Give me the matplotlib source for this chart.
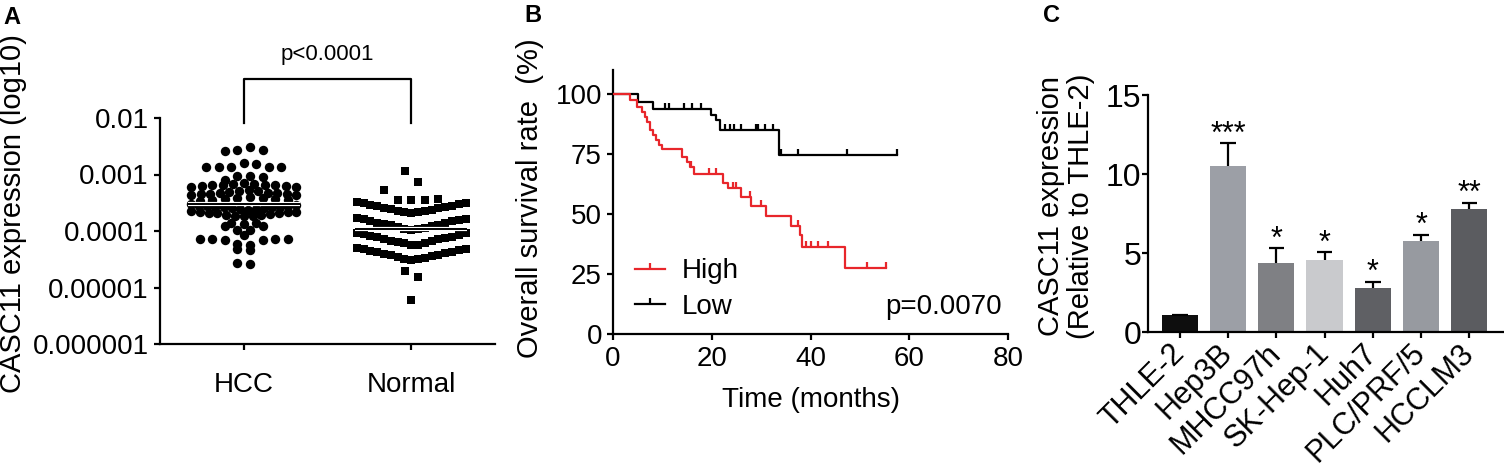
import numpy as np
import matplotlib
matplotlib.use("Agg")
import matplotlib.pyplot as plt
from matplotlib.lines import Line2D
import matplotlib.transforms as mtransforms

plt.rcParams['font.family'] = ['Liberation Sans', 'DejaVu Sans']

# ---------------- Panel A data (log10 CASC11 expression) ----------------
groups_a = ['HCC', 'Normal']
hcc_log10 = [
    -2.51, -2.56, -2.57, -2.58,
    -2.80, -2.81, -2.86, -2.87, -2.87, -2.875, -2.875,
    -3.02, -3.03, -3.04, -3.10,
    -3.15, -3.16, -3.17, -3.18, -3.18, -3.19, -3.19, -3.20, -3.21, -3.22, -3.23,
    -3.28, -3.29, -3.30, -3.31, -3.32, -3.32, -3.33, -3.34, -3.35, -3.35, -3.36, -3.37,
    -3.40, -3.41, -3.42, -3.43, -3.44, -3.45, -3.46, -3.47,
    -3.53, -3.54, -3.55, -3.55, -3.56, -3.57, -3.57, -3.58, -3.58, -3.59, -3.60, -3.61, -3.61, -3.62,
    -3.65, -3.66, -3.67, -3.67, -3.68, -3.68, -3.69, -3.70, -3.71, -3.72, -3.73, -3.73, -3.74,
    -3.86, -3.86, -3.87,
    -3.91, -3.92, -3.98, -3.99,
    -4.07,
    -4.14, -4.14, -4.15, -4.15, -4.16, -4.16, -4.23, -4.24,
    -4.32, -4.33,
    -4.57, -4.58,
]
normal_log10 = [
    -2.94, -3.13,
    -3.27, -3.44, -3.45, -3.45, -3.46,
    -3.49, -3.50, -3.51, -3.52, -3.54, -3.55, -3.56, -3.57, -3.59, -3.60, -3.61, -3.62, -3.64, -3.65, -3.66, -3.67, -3.69,
    -3.77, -3.78, -3.79, -3.80, -3.82, -3.83, -3.85, -3.86, -3.88, -3.89, -3.90, -3.92, -3.93, -3.94, -3.96, -3.97, -3.98,
    -4.03, -4.04, -4.05, -4.07, -4.08, -4.10, -4.11, -4.12, -4.14, -4.15, -4.17, -4.18, -4.19, -4.21, -4.22, -4.24, -4.25,
    -4.30, -4.31, -4.32, -4.34, -4.35, -4.37, -4.38, -4.39, -4.41, -4.42, -4.43, -4.45, -4.46, -4.47, -4.49, -4.50, -4.51,
    -4.71, -4.81,
    -5.22,
]
yticks_a = [-2, -3, -4, -5, -6]
ytick_labels_a = ['0.01', '0.001', '0.0001', '0.00001', '0.000001']
p_text_a = 'p<0.0001'

# ---------------- Panel B data (Kaplan-Meier) ----------------
high_times = [0, 3.4, 4.8, 5.8, 6.5, 6.8, 7.5, 8.2, 8.8, 9.4, 10.0, 13.9, 14.9, 15.6, 16.4,
              22.2, 23.3, 26.0, 28.0, 31.0, 36.1, 37.8, 38.3, 46.9, 55.3]
high_surv = [100, 97.5, 94.7, 92.6, 90.5, 88.5, 85.0, 82.9, 80.8, 78.8, 77.0, 73.9, 71.8, 69.7, 66.6,
             63.0, 60.7, 56.9, 53.2, 49.0, 45.0, 41.2, 36.1, 27.3, 27.3]
high_censor = [15.8, 19.4, 20.9, 24.3, 25.0, 27.8, 30.0, 37.4, 39.0, 40.1, 41.5, 43.5, 51.5, 55.3]
low_times = [0, 5.0, 8.1, 19.9, 20.8, 21.6, 33.7, 57.6]
low_surv = [100, 96.8, 93.6, 91.2, 89.2, 85.2, 74.6, 74.6]
low_censor = [10.6, 11.4, 14.4, 16.0, 17.8, 22.6, 23.6, 24.6, 26.0, 29.0, 29.4, 30.7, 32.4,
              34.1, 37.4, 47.3, 57.6]
series_b = ['High', 'Low']
p_text_b = 'p=0.0070'

# ---------------- Panel C data ----------------
cell_lines = ['THLE-2', 'Hep3B', 'MHCC97h', 'SK-Hep-1', 'Huh7', 'PLC/PRF/5', 'HCCLM3']
rel_expr = [1.1, 10.5, 4.35, 4.55, 2.8, 5.75, 7.77]
rel_err = [0.0, 1.45, 0.95, 0.5, 0.38, 0.4, 0.42]
sig_c = ['', '***', '*', '*', '*', '*', '**']
bar_colors = ['#0e0e0e', '#9c9fa6', '#7f8084', '#c9cacd', '#5f6064', '#979aa0', '#5b5c60']

# ---------------- Figure ----------------
W, H = 1504, 467
fig = plt.figure(figsize=(W / 100, H / 100), dpi=100)


def px_axes(l, t, r, b):
    return fig.add_axes([l / W, 1 - b / H, (r - l) / W, (b - t) / H])


def style_axes(ax, lw=1.6):
    for s in ['top', 'right']:
        ax.spines[s].set_visible(False)
    for s in ['left', 'bottom']:
        ax.spines[s].set_linewidth(lw)
    ax.tick_params(width=lw, length=4, color='black')


def swarm_x(vals, center, bin_w, ref, width, max_step, mode):
    v = np.asarray(vals, float)
    bins = np.floor((ref - v) / bin_w)
    xs = np.zeros(len(v))
    med = np.median(v)
    for b in np.unique(bins):
        idx = np.where(bins == b)[0]
        if mode == 'low':
            order = idx[np.argsort(v[idx], kind='stable')]
        else:
            order = idx[np.argsort(-np.abs(v[idx] - med), kind='stable')]
        n = len(order)
        step = min(max_step, width / (n - 1)) if n > 1 else 0.0
        for k, i in enumerate(order):
            if n % 2 == 1:
                off = ((k + 1) // 2) * (1 if k % 2 == 1 else -1)
            else:
                off = (k // 2 + 0.5) * (1 if k % 2 == 0 else -1)
            xs[i] = center + off * step
    return xs


# ---------------- Panel A ----------------
axA = px_axes(160, 118, 495, 344)
style_axes(axA)
xh = swarm_x(hcc_log10, 0, 0.125, -3.13, 0.627, 0.075, 'far')
xn = swarm_x(normal_log10, 1, 0.27, -3.47, 0.65, 0.08, 'low')
axA.scatter(xh, hcc_log10, s=46, marker='o', color='black', linewidths=0, zorder=2)
axA.scatter(xn, normal_log10, s=33, marker='s', color='black', linewidths=0, zorder=2)
for c, vals in [(0, hcc_log10), (1, normal_log10)]:
    m = np.median(vals)
    axA.hlines(m, c - 0.335, c + 0.335, color='white', lw=3.0, zorder=3)
    axA.hlines(m, c - 0.335, c + 0.335, color='black', lw=1.4, zorder=4)
axA.set_xlim(-0.5, 1.5)
axA.set_ylim(-6, -2)
axA.set_yticks(yticks_a)
axA.set_yticklabels(ytick_labels_a, fontsize=20)
axA.set_xticks([0, 1])
axA.set_xticklabels(groups_a, fontsize=20)
axA.tick_params(axis='x', pad=16)
axA.tick_params(axis='y', pad=4)
trA = mtransforms.blended_transform_factory(axA.transData, axA.transAxes)
axA.plot([0, 0, 1, 1], [0.978, 1.173, 1.173, 0.978], color='black', lw=1.6,
         transform=trA, clip_on=False)
axA.text(0.5, 1.28, p_text_a, transform=trA, ha='center', va='center', fontsize=16)
fig.text(13 / W, 1 - 214 / H, 'CASC11 expression (log10)', rotation=90,
         ha='center', va='center', fontsize=21)
fig.text(12 / W, 1 - 17 / H, 'A', fontsize=17, fontweight='bold', ha='center', va='center')

# ---------------- Panel B ----------------
axB = px_axes(613, 70, 1008, 334)
style_axes(axB)


def step_value(times, surv, t):
    i = np.searchsorted(np.asarray(times), t, side='right') - 1
    return np.asarray(surv)[i]


km = [(high_times, high_surv, high_censor, '#e8262b', 3),
      (low_times, low_surv, low_censor, 'black', 2)]
handles = []
for (tt, ss, cc, col, z), name in zip(km, series_b):
    axB.plot(tt, ss, drawstyle='steps-post', color=col, lw=1.6, zorder=z)
    cy = [step_value(tt, ss, t) for t in cc]
    axB.plot(cc, cy, linestyle='none', marker=2, markersize=4.5, mew=1.6, color=col, zorder=z)
    handles.append(Line2D([], [], color=col, lw=1.6, marker=2, markersize=4.5, mew=1.6))
axB.set_xlim(0, 80)
axB.set_ylim(0, 110)
axB.set_xticks([0, 20, 40, 60, 80])
axB.set_yticks([0, 25, 50, 75, 100])
axB.tick_params(labelsize=20)
axB.tick_params(axis='x', pad=5)
axB.tick_params(axis='y', pad=4)
axB.legend(handles, series_b, loc='center left', bbox_to_anchor=(0.055, 0.17),
           frameon=False, fontsize=20, handlelength=1.1, handletextpad=0.6,
           labelspacing=0.35, borderpad=0, borderaxespad=0, numpoints=1)
axB.text(78.8, 11.4, p_text_b, ha='right', va='center', fontsize=20)
fig.text(811 / W, 1 - 400 / H, 'Time (months)', ha='center', va='center', fontsize=20)
fig.text(530 / W, 1 - 198 / H, 'Overall survival rate  (%)', rotation=90,
         ha='center', va='center', fontsize=21)
fig.text(533 / W, 1 - 15 / H, 'B', fontsize=17, fontweight='bold', ha='center', va='center')

# ---------------- Panel C ----------------
axC = px_axes(1148, 95, 1504, 332)
style_axes(axC)
xc = np.arange(len(cell_lines))
axC.bar(xc, rel_expr, width=0.75, color=bar_colors, edgecolor='none', zorder=2)
tops = np.array(rel_expr) + np.array(rel_err)
axC.vlines(xc, rel_expr, tops, color='black', lw=1.6, zorder=3)
axC.hlines(tops, xc - 0.16, xc + 0.16, color='black', lw=1.6, zorder=3)
for x, t, s in zip(xc, tops, sig_c):
    if s:
        axC.text(x, t + 0.55, s, ha='center', va='center', fontsize=22)
axC.set_xlim(-0.66, 6.72)
axC.set_ylim(0, 15)
axC.set_yticks([0, 5, 10, 15])
axC.tick_params(axis='y', labelsize=23, pad=1)
axC.set_xticks(xc)
axC.set_xticklabels(cell_lines, fontsize=22, rotation=45, ha='right', va='center',
                    rotation_mode='anchor')
axC.tick_params(axis='x', pad=8)
fig.text(1066 / W, 1 - 206 / H, 'CASC11 expression\n(Relative to THLE-2)', rotation=90,
         ha='center', va='center', fontsize=21, linespacing=1.05, multialignment='center')
fig.text(1052 / W, 1 - 15 / H, 'C', fontsize=17, fontweight='bold', ha='center', va='center')

fig.savefig('out.png', dpi=100)
